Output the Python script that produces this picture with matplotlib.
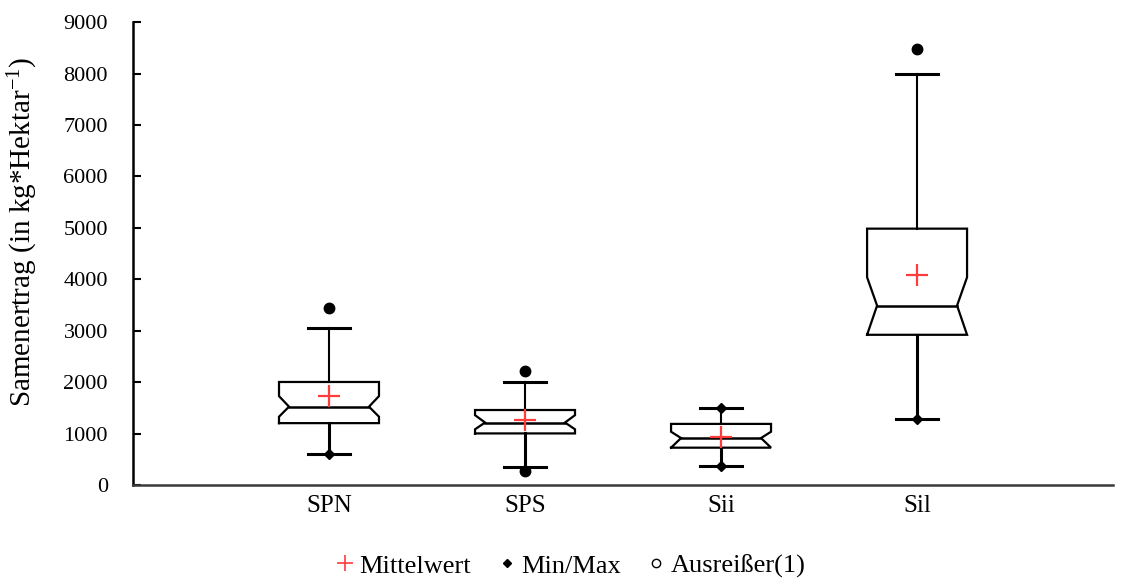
import matplotlib
matplotlib.use("Agg")
import matplotlib.pyplot as plt
from matplotlib.lines import Line2D

# Seed yield per variety (kg per hectare): box-plot summary statistics
categories = ["SPN", "SPS", "Sii", "Sil"]
q1 = [1205, 1005, 728, 2922]
medians = [1525, 1217, 915, 3490]
q3 = [2005, 1460, 1190, 4985]
notch_low = [1330, 1085, 728, 2922]
notch_high = [1730, 1360, 1038, 4040]
whisker_low = [597, 345, 370, 1290]
whisker_high = [3055, 2012, 1495, 7985]
means = [1725, 1262, 945, 4085]
minima = [597, 275, 370, 1290]
maxima = [3450, 2215, 1495, 8475]
outliers = [[3450], [2215, 275], [], [8475]]

plt.rcParams["font.family"] = ["Liberation Serif", "DejaVu Serif"]
plt.rcParams["mathtext.default"] = "regular"
plt.rcParams["font.size"] = 16

fig = plt.figure(figsize=(11.24, 5.81), dpi=100)
ax = fig.add_axes([0.1183, 0.165, 0.872, 0.797])

box_w = 0.51
cap_w = 0.21
waist = 0.8  # fraction of the half box width left at the notch waist

for i, cat in enumerate(categories):
    x = i + 1
    h = box_w / 2
    lo = max(notch_low[i], q1[i])
    hi = min(notch_high[i], q3[i])
    xs = [x - h, x - h, x - h * waist, x - h, x - h,
          x + h, x + h, x + h * waist, x + h, x + h, x - h]
    ys = [q1[i], lo, medians[i], hi, q3[i],
          q3[i], hi, medians[i], lo, q1[i], q1[i]]
    ax.plot(xs, ys, color="black", lw=1.6, solid_joinstyle="miter", zorder=3)
    ax.plot([x - h * waist, x + h * waist], [medians[i]] * 2,
            color="black", lw=1.8, zorder=3)
    # whiskers and caps
    ax.plot([x, x], [q3[i], whisker_high[i]], color="black", lw=1.5, zorder=2)
    ax.plot([x, x], [whisker_low[i], q1[i]], color="black", lw=2.2, zorder=2)
    for yv in (whisker_low[i], whisker_high[i]):
        ax.plot([x - cap_w / 2, x + cap_w / 2], [yv, yv],
                color="black", lw=2.2, zorder=2)
    # min / max markers
    ax.plot([x, x], [minima[i], maxima[i]], ls="none", marker="D",
            ms=5, color="black", zorder=4)
    # outliers
    if outliers[i]:
        ax.plot([x] * len(outliers[i]), outliers[i], ls="none", marker="o",
                ms=7.5, color="black", zorder=5)
    # mean
    ax.plot([x], [means[i]], ls="none", marker="+", ms=16, mew=1.6,
            color="#ff3b3b", zorder=6)

ax.set_xlim(0, 5)
ax.set_ylim(0, 9000)
ax.set_yticks(range(0, 9001, 1000))
ax.set_xticks(range(1, len(categories) + 1))
ax.set_xticklabels(categories, fontsize=18)
ax.tick_params(axis="y", direction="in", length=6, width=1.5, pad=18,
               labelsize=16)
ax.tick_params(axis="x", length=0, pad=7)

for side in ("top", "right"):
    ax.spines[side].set_visible(False)
ax.spines["left"].set_linewidth(1.8)
ax.spines["left"].set_color("black")
ax.spines["bottom"].set_linewidth(1.8)
ax.spines["bottom"].set_color("#3a3a3a")

fig.text(23 / 1124, 1 - 232 / 581, "Samenertrag (in kg*Hektar$^{-1}$)",
         rotation=90, ha="center", va="center", fontsize=21)

handles = [
    Line2D([], [], ls="none", marker="+", ms=12, mew=1.2, color="#ff3b3b"),
    Line2D([], [], ls="none", marker="D", ms=4.5, color="black"),
    Line2D([], [], ls="none", marker="o", ms=6, mfc="white", mec="black", mew=1.0),
]
labels = ["Mittelwert", "Min/Max", "Ausreißer(1)"]
fig.legend(handles, labels, loc="center", bbox_to_anchor=(572 / 1124, 1 - 566 / 581),
           ncol=3, frameon=False, handlelength=0.5, handletextpad=0.3,
           columnspacing=1.1, fontsize=19)

fig.savefig("out.png", dpi=100)
